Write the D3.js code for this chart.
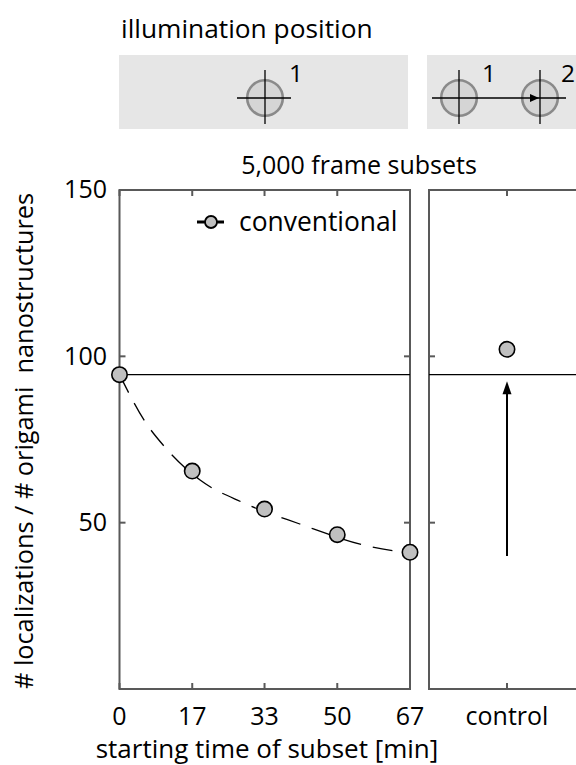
<!DOCTYPE html>
<html>
<head>
<meta charset="utf-8">
<script src="https://cdn.jsdelivr.net/npm/d3@7"></script>
<style>
  html, body { margin: 0; padding: 0; background: #fff; }
  svg { display: block; font-family: "Open Sans", "Noto Sans", sans-serif; }
  .pre { white-space: pre; }
</style>
</head>
<body>
<svg id="chart" width="576" height="765"></svg>
<script>
// ---- data ----
const startTimes = [0, 16.7, 33.3, 50, 66.7];           // minutes
const timeTickLabels = ["0", "17", "33", "50", "67"];
const conventional = [94.5, 65.5, 54.1, 46.4, 41.1];   // localizations per origami
const fitTimes = [0, 5.9, 10.5, 18.5, 28.4, 41.4, 56.0, 66.7];
const fitValues = [94.5, 80.3, 72.6, 62.8, 56.0, 49.6, 43.3, 40.8];
const referenceLevel = 94.5;
const controlCategories = ["control"];
const controlValues = [102.1];
const arrowSpan = [40.0, 92.5];
const yTicks = [0, 50, 100, 150];
const yTickLabels = ["", "50", "100", "150"];

// ---- layout ----
const svg = d3.select("#chart");
const frameColor = "#595959";
const dotFill = "#c0c0c0";
const plotTop = 190, plotBottom = 689;
const leftPanel = { x0: 119.5, x1: 410 };
const rightPanel = { x0: 429, x1: 585 };
const tickLen = 6;

const y = d3.scaleLinear().domain([0, 150]).range([plotBottom, plotTop]);
const xTime = d3.scaleLinear().domain([0, 66.7]).range([leftPanel.x0, leftPanel.x1]);
const xCat = d3.scalePoint().domain(controlCategories).range([rightPanel.x0, rightPanel.x1]).padding(0.5);

// ---- illumination-position schematic ----
svg.append("text").attr("x", 121).attr("y", 38).attr("font-size", 26.3).text("illumination position");

const boxes = svg.append("g");
boxes.append("rect").attr("x", 119).attr("y", 55).attr("width", 289).attr("height", 74).attr("fill", "#e6e6e6");
boxes.append("rect").attr("x", 427).attr("y", 55).attr("width", 160).attr("height", 74).attr("fill", "#e6e6e6");

function spot(g, cx, cy, label, dx) {
  g.append("circle").attr("cx", cx).attr("cy", cy).attr("r", 17.8)
    .attr("fill", "#d5d5d5").attr("stroke", "#8a8a8a").attr("stroke-width", 2.6);
  g.append("line").attr("x1", cx).attr("x2", cx).attr("y1", cy - 28).attr("y2", cy + 26)
    .attr("stroke", "#000").attr("stroke-width", 1.3);
  g.append("text").attr("x", cx + dx).attr("y", 82).attr("font-size", 24.5).text(label);
}
spot(boxes, 265, 98, "1", 24);
boxes.append("line").attr("x1", 237).attr("x2", 291).attr("y1", 98).attr("y2", 98)
  .attr("stroke", "#000").attr("stroke-width", 1.3);
spot(boxes, 459, 98, "1", 23);
spot(boxes, 540, 98, "2", 21);
boxes.append("line").attr("x1", 432).attr("x2", 566).attr("y1", 98).attr("y2", 98)
  .attr("stroke", "#000").attr("stroke-width", 1.6);
boxes.append("path").attr("d", "M539,98 L530,94 L530,102 Z").attr("fill", "#000");

svg.append("text").attr("x", 359).attr("y", 174).attr("text-anchor", "middle")
  .attr("font-size", 25).text("5,000 frame subsets");

// ---- panel frames & ticks ----
function frame(x0, x1, xTickPos) {
  const g = svg.append("g");
  g.append("rect").attr("x", x0).attr("y", plotTop).attr("width", x1 - x0).attr("height", plotBottom - plotTop)
    .attr("fill", "none").attr("stroke", frameColor).attr("stroke-width", 2);
  xTickPos.forEach(px => {
    g.append("line").attr("x1", px).attr("x2", px).attr("y1", plotBottom).attr("y2", plotBottom - tickLen)
      .attr("stroke", frameColor).attr("stroke-width", 2);
    g.append("line").attr("x1", px).attr("x2", px).attr("y1", plotTop).attr("y2", plotTop + tickLen)
      .attr("stroke", frameColor).attr("stroke-width", 2);
  });
  yTicks.forEach(v => {
    g.append("line").attr("x1", x0).attr("x2", x0 + tickLen).attr("y1", y(v)).attr("y2", y(v))
      .attr("stroke", frameColor).attr("stroke-width", 2);
    g.append("line").attr("x1", x1).attr("x2", x1 - tickLen).attr("y1", y(v)).attr("y2", y(v))
      .attr("stroke", frameColor).attr("stroke-width", 2);
  });
  return g;
}
frame(leftPanel.x0, leftPanel.x1, startTimes.map(xTime));
frame(rightPanel.x0, rightPanel.x1, controlCategories.map(xCat));

// y tick labels
svg.append("g").selectAll("text").data(yTicks).join("text")
  .attr("x", 107).attr("y", d => y(d)).attr("dy", "0.33em")
  .attr("text-anchor", "end").attr("font-size", 25)
  .text((d, i) => yTickLabels[i]);

// x tick labels
svg.append("g").selectAll("text").data(startTimes).join("text")
  .attr("x", d => xTime(d)).attr("y", 725).attr("text-anchor", "middle").attr("font-size", 25)
  .text((d, i) => timeTickLabels[i]);
svg.append("g").selectAll("text").data(controlCategories).join("text")
  .attr("x", d => xCat(d)).attr("y", 725).attr("text-anchor", "middle").attr("font-size", 25)
  .text(d => d);

// axis titles
svg.append("text").attr("x", 267).attr("y", 758).attr("text-anchor", "middle")
  .attr("font-size", 26).text("starting time of subset [min]");
svg.append("text").attr("class", "pre")
  .attr("transform", "translate(33,441) rotate(-90)").attr("text-anchor", "middle")
  .attr("font-size", 25.3).text("# localizations / # origami  nanostructures");

// ---- reference level ----
[[leftPanel.x0, leftPanel.x1], [rightPanel.x0, 576]].forEach(([a, b]) => {
  svg.append("line").attr("x1", a).attr("x2", b).attr("y1", y(referenceLevel)).attr("y2", y(referenceLevel))
    .attr("stroke", "#000").attr("stroke-width", 1.2);
});

// ---- fitted decay (dashed) ----
const fitLine = d3.line().x(d => xTime(d[0])).y(d => y(d[1])).curve(d3.curveMonotoneX);
svg.append("path").datum(fitTimes.map((t, i) => [t, fitValues[i]]))
  .attr("d", fitLine).attr("fill", "none").attr("stroke", "#000")
  .attr("stroke-width", 1.3).attr("stroke-dasharray", "20,12");

// ---- conventional points ----
svg.append("g").selectAll("circle").data(startTimes).join("circle")
  .attr("cx", d => xTime(d)).attr("cy", (d, i) => y(conventional[i])).attr("r", 7.7)
  .attr("fill", dotFill).attr("stroke", "#000").attr("stroke-width", 1.6);

// ---- control point & recovery arrow ----
svg.append("g").selectAll("circle").data(controlCategories).join("circle")
  .attr("cx", d => xCat(d)).attr("cy", (d, i) => y(controlValues[i])).attr("r", 7.7)
  .attr("fill", dotFill).attr("stroke", "#000").attr("stroke-width", 1.6);
const ax = xCat("control");
svg.append("line").attr("x1", ax).attr("x2", ax).attr("y1", y(arrowSpan[0])).attr("y2", y(arrowSpan[1]) + 10)
  .attr("stroke", "#000").attr("stroke-width", 2);
svg.append("path")
  .attr("d", `M${ax},${y(arrowSpan[1])} L${ax - 4.5},${y(arrowSpan[1]) + 13} L${ax + 4.5},${y(arrowSpan[1]) + 13} Z`)
  .attr("fill", "#000");

// ---- legend ----
const lg = svg.append("g");
lg.append("line").attr("x1", 197).attr("x2", 224).attr("y1", 222).attr("y2", 222)
  .attr("stroke", "#000").attr("stroke-width", 3);
lg.append("circle").attr("cx", 211).attr("cy", 222).attr("r", 6)
  .attr("fill", dotFill).attr("stroke", "#000").attr("stroke-width", 1.8);
lg.append("text").attr("x", 239).attr("y", 231).attr("font-size", 26.4).text("conventional");
</script>
</body>
</html>
